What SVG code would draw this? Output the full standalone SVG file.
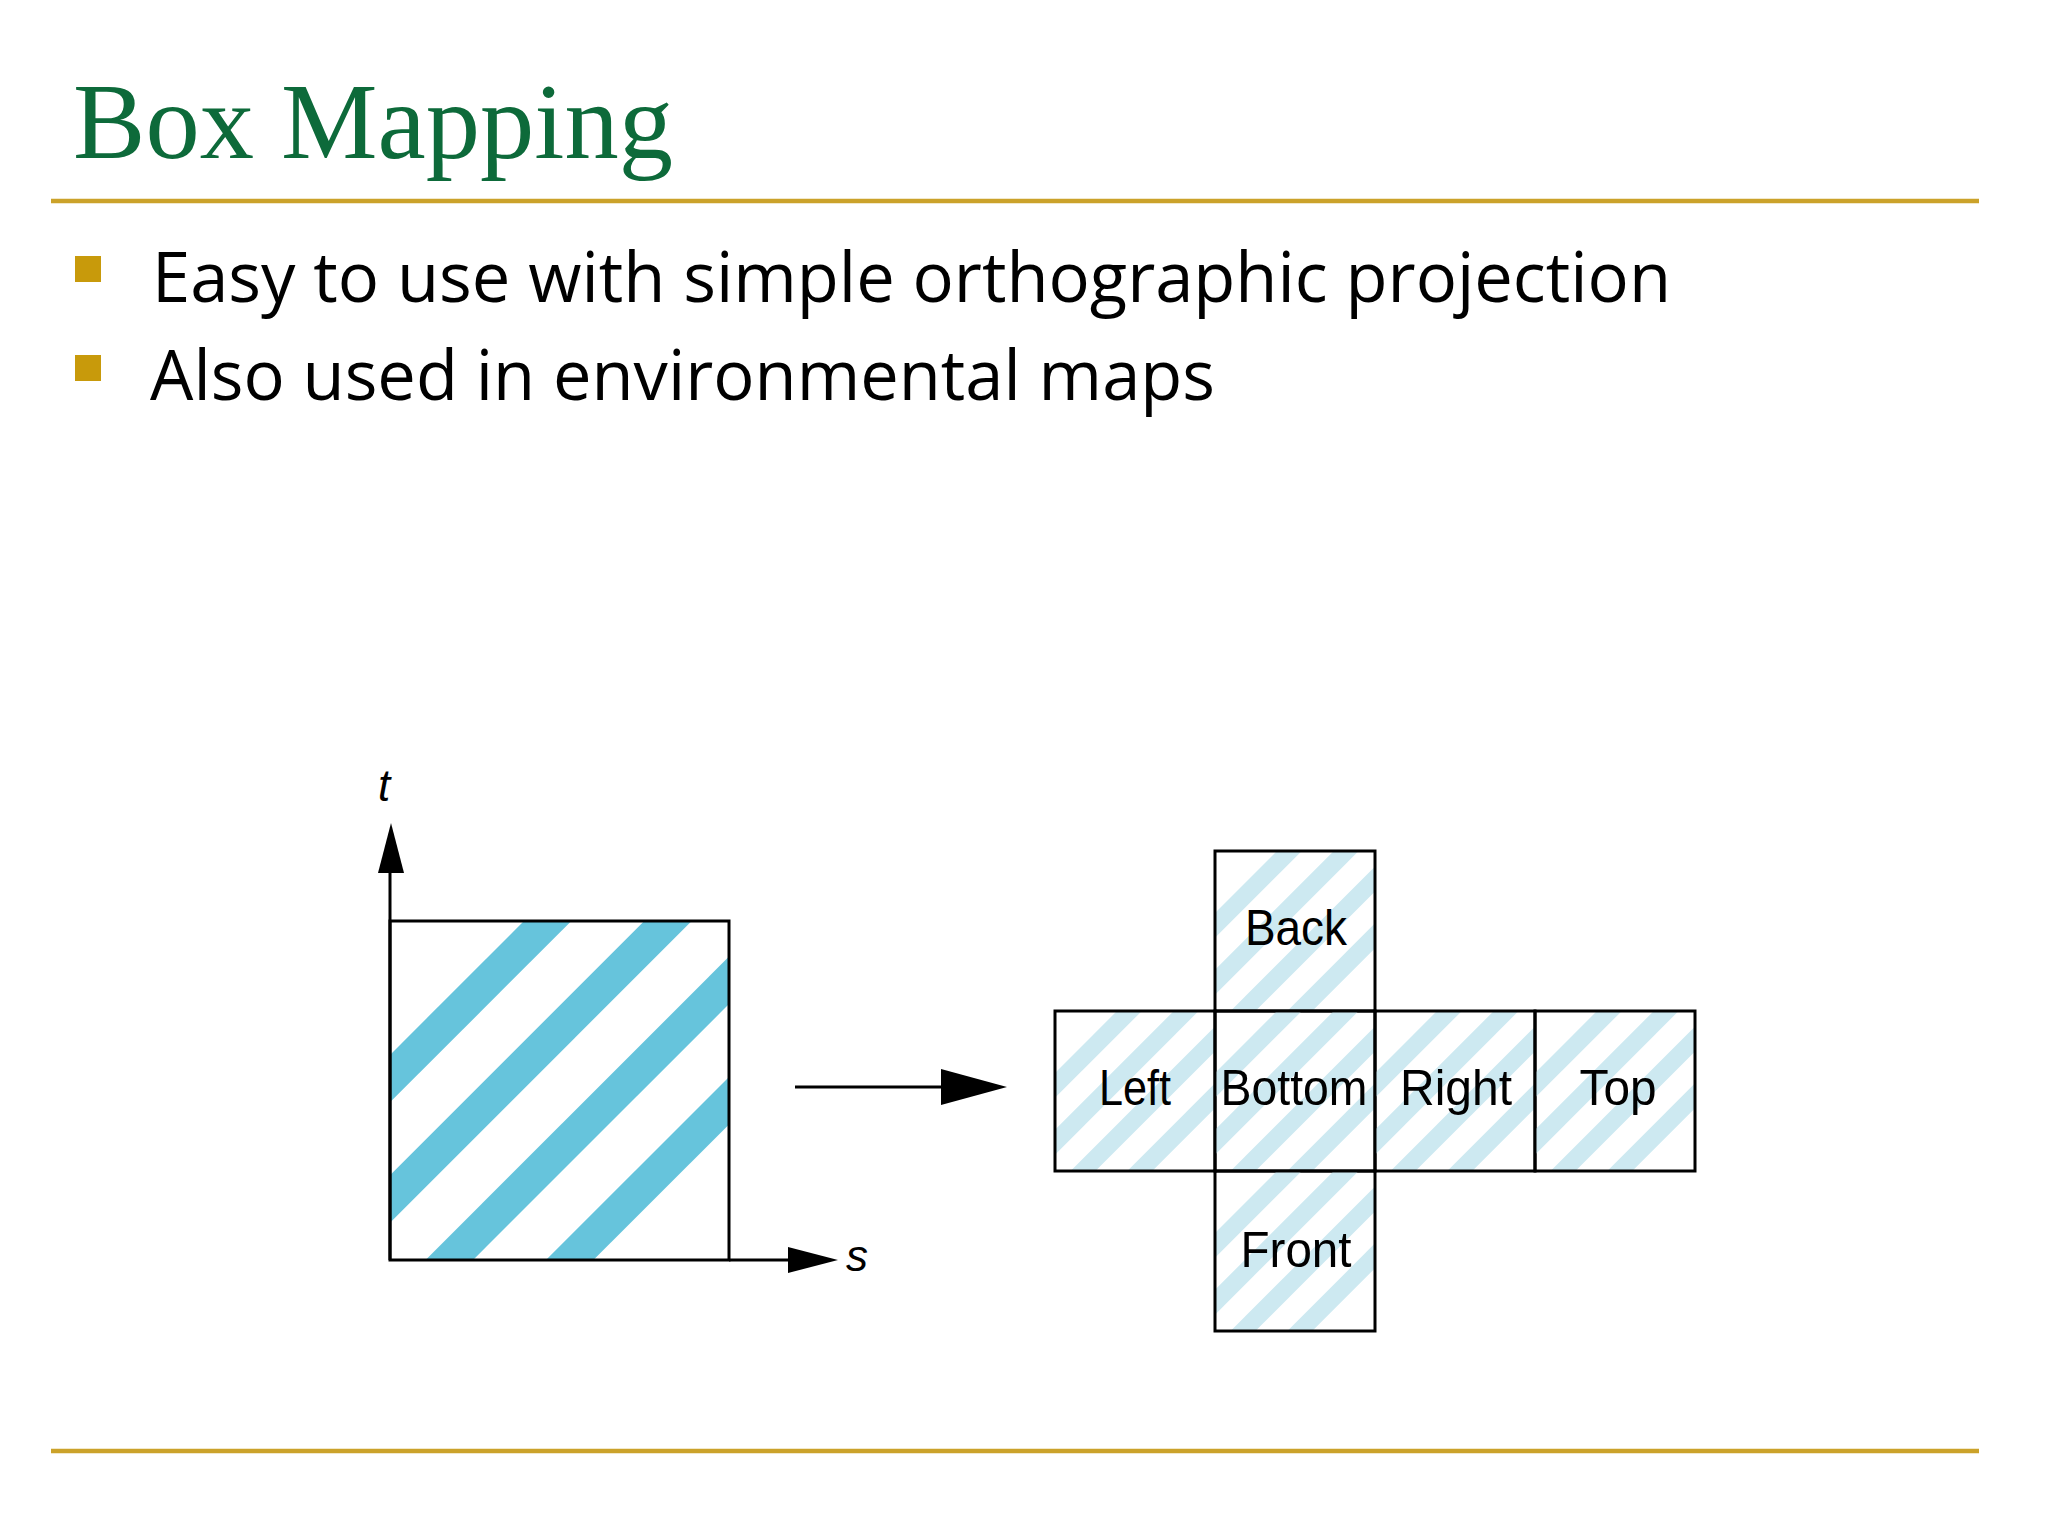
<svg xmlns="http://www.w3.org/2000/svg" xmlns:xlink="http://www.w3.org/1999/xlink" width="2048" height="1536" viewBox="0 0 2048 1536">
<style>
.rule{stroke:#CBA22A;stroke-width:4.5}
.bullet{fill:#C89A0B}
.btxt{font-family:"Open Sans","Noto Sans",sans-serif;font-size:70px;fill:#000}
.title{font-family:"Liberation Serif",serif;font-size:108px;fill:#0D6A3A}
.ax{stroke:#000;stroke-width:3;fill:none}
.cell{fill:none;stroke:#000;stroke-width:3}
.lbl{font-family:"Liberation Sans",sans-serif;font-size:50px;fill:#000;text-anchor:middle}
.axl{font-family:"Liberation Sans",sans-serif;font-size:44px;font-style:italic;fill:#000}
</style>
<defs>
<symbol id="stripesDark" viewBox="0 0 100 100">
<g stroke="#66C4DC" stroke-width="9.9">
<line x1="-50" y1="96.5" x2="150" y2="-103.5"/>
<line x1="-50" y1="132" x2="150" y2="-68"/>
<line x1="-50" y1="167.5" x2="150" y2="-32.5"/>
<line x1="-50" y1="203" x2="150" y2="3"/>
</g>
</symbol>
<symbol id="stripesLight" viewBox="0 0 100 100">
<g stroke="#CDE9F1" stroke-width="11">
<line x1="-50" y1="96.5" x2="150" y2="-103.5"/>
<line x1="-50" y1="132" x2="150" y2="-68"/>
<line x1="-50" y1="167.5" x2="150" y2="-32.5"/>
<line x1="-50" y1="203" x2="150" y2="3"/>
</g>
</symbol>
</defs>
<rect width="2048" height="1536" fill="#fff"/>
<text class="title" x="73" y="158" textLength="600" lengthAdjust="spacingAndGlyphs">Box Mapping</text>
<line class="rule" x1="51" y1="201" x2="1979" y2="201"/>
<line class="rule" x1="51" y1="1451" x2="1979" y2="1451"/>
<rect class="bullet" x="75" y="256" width="26" height="26"/>
<text class="btxt" x="152" y="302" textLength="1519" lengthAdjust="spacingAndGlyphs">Easy to use with simple orthographic projection</text>
<rect class="bullet" x="75" y="355" width="26" height="26"/>
<text class="btxt" x="150" y="400" textLength="1065" lengthAdjust="spacingAndGlyphs">Also used in environmental maps</text>
<g id="texture">
<use xlink:href="#stripesDark" x="390" y="921" width="339" height="339"/>
<rect x="390" y="921" width="339" height="339" fill="none" stroke="#000" stroke-width="3"/>
</g>
<g id="axes">
<line class="ax" x1="390" y1="1260" x2="390" y2="870"/>
<polygon points="391,823 378,873 404,873" fill="#000"/>
<line class="ax" x1="729" y1="1260" x2="790" y2="1260"/>
<polygon points="838,1260 788,1247 788,1273" fill="#000"/>
<text class="axl" x="378" y="801">t</text>
<text class="axl" x="846" y="1271">s</text>
</g>
<g id="connectors">
<line class="ax" x1="795" y1="1087" x2="945" y2="1087" stroke-width="4"/>
<polygon points="1007,1087 941,1069 941,1105" fill="#000"/>
</g>
<g id="back">
<use xlink:href="#stripesLight" x="1215" y="851" width="160" height="160"/>
<rect class="cell" x="1215" y="851" width="160" height="160"/>
<text class="lbl" x="1296" y="945" textLength="102" lengthAdjust="spacingAndGlyphs">Back</text>
</g>
<g id="left">
<use xlink:href="#stripesLight" x="1055" y="1011" width="160" height="160"/>
<rect class="cell" x="1055" y="1011" width="160" height="160"/>
<text class="lbl" x="1135" y="1105" textLength="72" lengthAdjust="spacingAndGlyphs">Left</text>
</g>
<g id="bottom">
<use xlink:href="#stripesLight" x="1215" y="1011" width="160" height="160"/>
<rect class="cell" x="1215" y="1011" width="160" height="160"/>
<text class="lbl" x="1294" y="1105" textLength="147" lengthAdjust="spacingAndGlyphs">Bottom</text>
</g>
<g id="right">
<use xlink:href="#stripesLight" x="1375" y="1011" width="160" height="160"/>
<rect class="cell" x="1375" y="1011" width="160" height="160"/>
<text class="lbl" x="1456" y="1105" textLength="112" lengthAdjust="spacingAndGlyphs">Right</text>
</g>
<g id="top">
<use xlink:href="#stripesLight" x="1535" y="1011" width="160" height="160"/>
<rect class="cell" x="1535" y="1011" width="160" height="160"/>
<text class="lbl" x="1618" y="1105" textLength="77" lengthAdjust="spacingAndGlyphs">Top</text>
</g>
<g id="front">
<use xlink:href="#stripesLight" x="1215" y="1171" width="160" height="160"/>
<rect class="cell" x="1215" y="1171" width="160" height="160"/>
<text class="lbl" x="1296" y="1267" textLength="111" lengthAdjust="spacingAndGlyphs">Front</text>
</g>
</svg>
